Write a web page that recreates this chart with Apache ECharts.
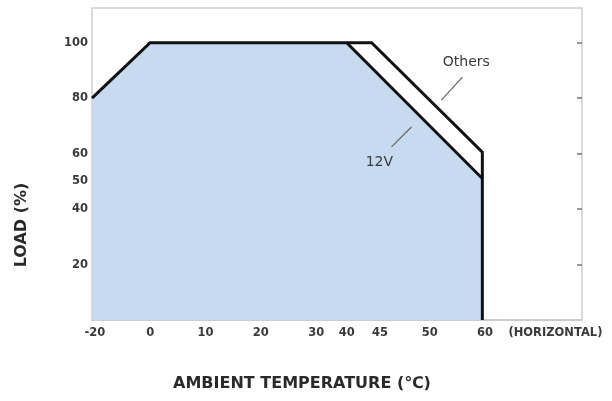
<!DOCTYPE html>
<html>
<head>
<meta charset="utf-8">
<script src="https://cdn.jsdelivr.net/npm/echarts@6/dist/echarts.min.js"></script>
<style>
html,body{margin:0;padding:0;background:#fff;}
#chart{width:612px;height:401px;}
</style>
</head>
<body>
<div id="chart"></div>
<script>
// Tick labels and where they sit on the (non-uniform) drawn temperature axis
const xTickLabels = ['-20', '0', '10', '20', '30', '40', '45', '50', '60', '(HORIZONTAL)'];
const xTickAt = [-10, 0, 10, 20, 30, 35.5, 41.5, 50.5, 60.5, 73.2];
const yTickLeft = [20, 40, 50, 60, 80, 100];
const yTickRight = [20, 40, 60, 80, 100];

// Derating curves [axis temperature, load %]
const curve12V = [[-10.5, 80], [0, 100], [35.5, 100], [60, 51], [60, 0]];
const curveOthers = [[35.5, 100], [40, 100], [60, 60.5], [60, 51]];

// Annotations
const othersLabel = [57.1, 93];
const othersPointer = [[56.4, 87.6], [52.6, 79.3]];
const label12V = [41.4, 57];
const pointer12V = [[43.6, 62.4], [47.2, 69.6]];

const labelMap = {};
xTickAt.forEach((v, i) => { labelMap[v] = xTickLabels[i]; });

const chart = echarts.init(document.getElementById('chart'), null, {renderer: 'canvas'});
const font = 'DejaVu Sans, Arial, sans-serif';
chart.setOption({
  animation: false,
  backgroundColor: '#fff',
  grid: {left: 92, right: 30, top: 8, bottom: 81, show: true, borderColor: '#cfcfcf', borderWidth: 1.5, backgroundColor: 'transparent'},
  xAxis: {
    type: 'value', min: -10.5, max: 78,
    axisLine: {show: true, lineStyle: {color: '#c8c8c8', width: 1.5}},
    axisTick: {show: false},
    splitLine: {show: false},
    axisLabel: {
      customValues: xTickAt,
      formatter: v => {
        const t = labelMap[v];
        if (t === undefined) return '';
        return t.length > 3 ? '{h|' + t + '}' : t;
      },
      rich: {h: {fontSize: 11.5, fontWeight: 'bold', fontFamily: font, color: '#3a3a3a'}},
      color: '#3a3a3a', fontSize: 11.5, fontWeight: 'bold', fontFamily: font, margin: 7
    }
  },
  yAxis: [{
    type: 'value', min: 0, max: 112.5,
    axisLine: {show: false},
    splitLine: {show: false},
    axisTick: {show: true, customValues: yTickLeft, length: 4, lineStyle: {color: '#d8a8a8', width: 1}},
    axisLabel: {customValues: yTickLeft, color: '#3a3a3a', fontSize: 11.5, fontWeight: 'bold', fontFamily: font, margin: 4}
  }, {
    type: 'value', min: 0, max: 112.5, position: 'right',
    axisLine: {show: false},
    splitLine: {show: false},
    axisTick: {show: true, inside: true, customValues: yTickRight, length: 5, lineStyle: {color: '#777', width: 1.5}},
    axisLabel: {show: false}
  }],
  series: [{
    name: '12V', type: 'line', data: curve12V, symbol: 'none', z: 3,
    lineStyle: {color: '#111', width: 3, join: 'miter'},
    areaStyle: {color: '#c6daf0', opacity: 1, origin: 'start'},
    markPoint: {
      symbol: 'circle', symbolSize: 0,
      label: {show: true, position: 'inside', formatter: p => p.name, color: '#3a3a3a', fontSize: 14, fontFamily: font},
      data: [{name: '12V', coord: label12V}]
    },
    markLine: {
      silent: true, symbol: ['none', 'none'], label: {show: false},
      lineStyle: {color: '#666', width: 1.2, type: 'solid'},
      data: [[{coord: pointer12V[0]}, {coord: pointer12V[1]}]]
    }
  }, {
    name: 'Others', type: 'line', data: curveOthers, symbol: 'none', z: 3,
    lineStyle: {color: '#111', width: 3, join: 'miter'},
    markPoint: {
      symbol: 'circle', symbolSize: 0,
      label: {show: true, position: 'inside', formatter: p => p.name, color: '#3a3a3a', fontSize: 14, fontFamily: font},
      data: [{name: 'Others', coord: othersLabel}]
    },
    markLine: {
      silent: true, symbol: ['none', 'none'], label: {show: false},
      lineStyle: {color: '#666', width: 1.2, type: 'solid'},
      data: [[{coord: othersPointer[0]}, {coord: othersPointer[1]}]]
    }
  }],
  graphic: [{
    type: 'text', x: 22, y: 225, rotation: Math.PI / 2,
    style: {text: 'LOAD (%)', fill: '#2a2a2a', font: 'bold 16px ' + font, align: 'center', verticalAlign: 'middle'}
  }, {
    type: 'text', x: 302, y: 384,
    style: {text: 'AMBIENT TEMPERATURE (℃)', fill: '#2a2a2a', font: 'bold 16px ' + font, align: 'center', verticalAlign: 'middle'}
  }]
});
</script>
</body>
</html>
